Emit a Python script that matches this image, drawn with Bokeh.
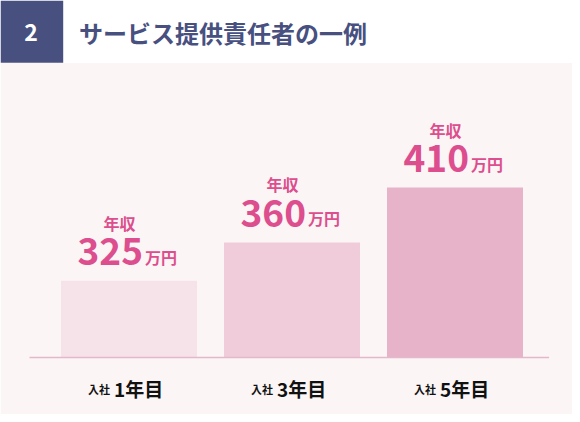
from bokeh.plotting import figure
from bokeh.models import Range1d
from bokeh.core.properties import value
from bokeh.embed import file_html
from bokeh.resources import INLINE

# ---- data ----
section_no = "2"
title_text = "サービス提供責任者の一例"
categories = ["1年目", "3年目", "5年目"]
category_prefix = "入社"
salaries = [325, 360, 410]          # 年収（万円）
annual_label = "年収"
unit_label = "万円"

# ---- styles ----
FONT = value("Noto Sans CJK JP")
NAVY = "#47507f"
BG = "#fcf5f6"
BAR_COLORS = ["#f6e3ea", "#f0ccdb", "#e6b3c8"]
LINE = "#e2b8cb"
PINK = "#dc4e8d"
DARK = "#111111"

W, H = 572, 414
base = 255            # value at the baseline
k = 1.096             # px per value unit
base_px = 357         # baseline position from top, px
step = 163            # px between bar centres
x0_px = 128.5         # px of first bar centre

xs = list(range(len(categories)))

p = figure(width=W, height=H, title=None,
           x_range=Range1d(-x0_px / step, (W - x0_px) / step),
           y_range=Range1d(base - (H - base_px) / k, base + base_px / k),
           x_axis_type=None, y_axis_type=None,
           output_backend="svg", toolbar_location=None,
           min_border=0, outline_line_color=None,
           background_fill_color="white", border_fill_color="white")
p.extra_x_ranges = {"px": Range1d(0, W)}
p.extra_y_ranges = {"px": Range1d(H, 0)}

# background panel and header
p.quad(left=0, right=W, top=62.5, bottom=H, fill_color=BG, line_color=None,
       x_range_name="px", y_range_name="px")
p.quad(left=0, right=62.7, top=0, bottom=62.3, fill_color=NAVY, line_color=None,
       x_range_name="px", y_range_name="px")
p.text(x=[30.5], y=[31.5], text=[section_no], text_align="center", text_baseline="middle",
       text_font=FONT, text_font_style="bold", text_font_size="23px", text_color="white",
       x_range_name="px", y_range_name="px")
p.text(x=[78.5], y=[31.5], text=[title_text], text_align="left", text_baseline="middle",
       text_font=FONT, text_font_style="bold", text_font_size="24px", text_color=NAVY,
       x_range_name="px", y_range_name="px")

# bars
p.vbar(x=xs, top=salaries, bottom=base, width=136 / step,
       fill_color=BAR_COLORS, line_color=None)

# baseline
p.segment(x0=[29], x1=[548.6], y0=[base_px], y1=[base_px], line_color=LINE, line_width=1.5,
          x_range_name="px", y_range_name="px")

# value labels
p.text(x=xs, y=salaries, text=[str(v) for v in salaries], text_align="right",
       text_baseline="middle", x_offset=14, y_offset=-29,
       text_font=FONT, text_font_style="bold", text_font_size="37px", text_color=PINK)
p.text(x=xs, y=salaries, text=[unit_label] * len(xs), text_align="left",
       text_baseline="middle", x_offset=16, y_offset=-24,
       text_font=FONT, text_font_style="bold", text_font_size="16px", text_color=PINK)
p.text(x=xs, y=salaries, text=[annual_label] * len(xs), text_align="center",
       text_baseline="middle", x_offset=-9.5, y_offset=-58,
       text_font=FONT, text_font_style="bold", text_font_size="16px", text_color=PINK)

# category labels
p.text(x=xs, y=[base] * len(xs), text=[category_prefix] * len(xs), text_align="left",
       text_baseline="middle", x_offset=-41, y_offset=31,
       text_font=FONT, text_font_style="bold", text_font_size="11px", text_color=DARK)
p.text(x=xs, y=[base] * len(xs), text=categories, text_align="left",
       text_baseline="middle", x_offset=-15, y_offset=31,
       text_font=FONT, text_font_style="bold", text_font_size="19px", text_color=DARK)

open("out.html", "w").write(file_html(p, INLINE))
